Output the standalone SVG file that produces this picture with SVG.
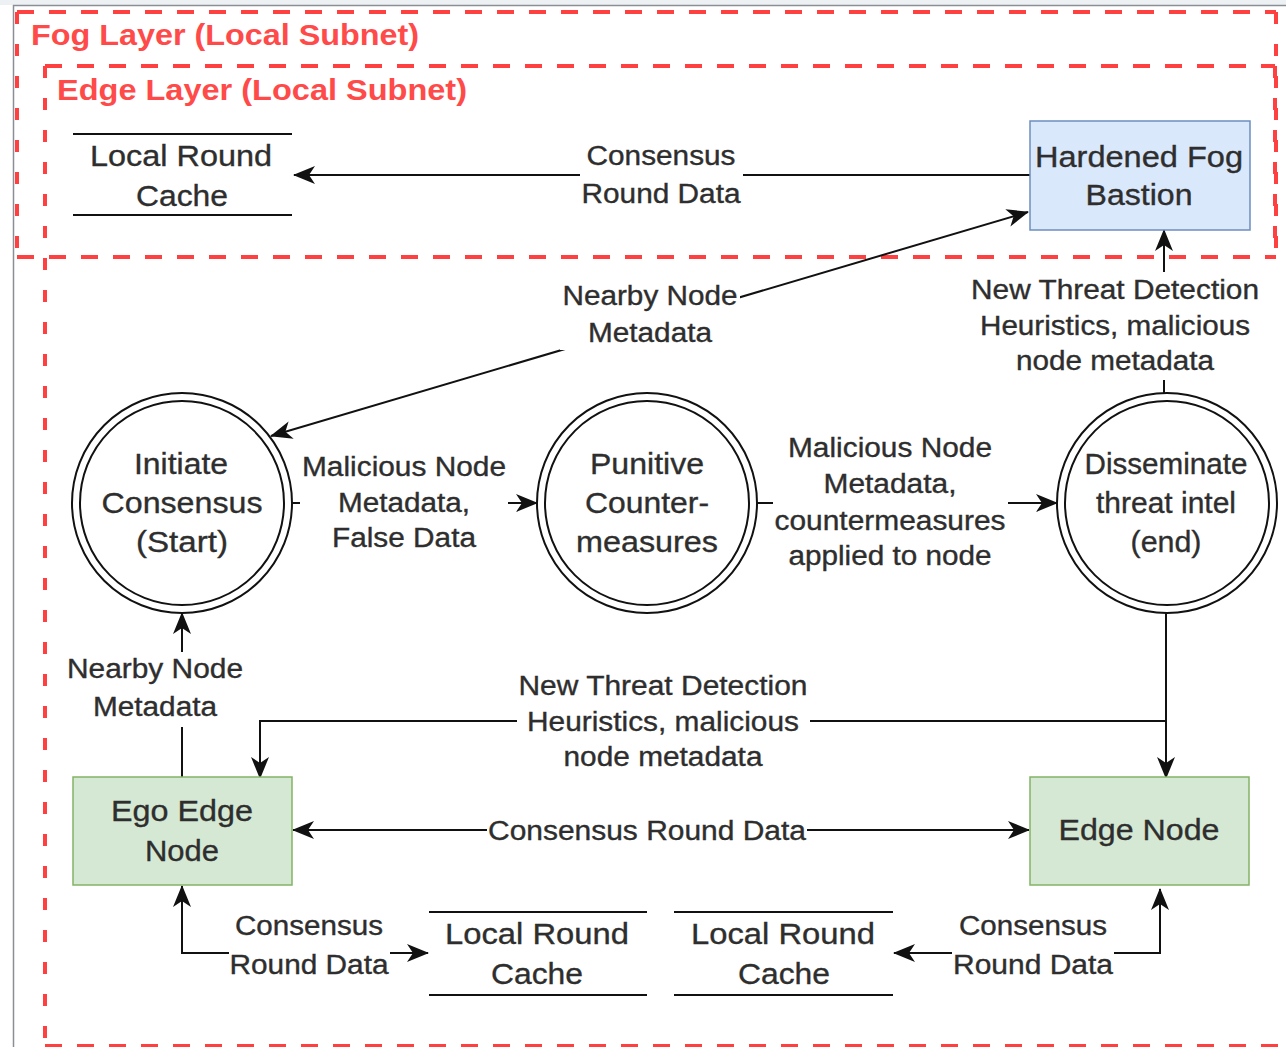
<svg xmlns="http://www.w3.org/2000/svg" width="1286" height="1047" viewBox="0 0 1286 1047">
  <style>
    text { font-family: "Liberation Sans", Arial, sans-serif; fill: #2e2e2e; stroke: #2e2e2e; stroke-width: 0.35; text-anchor: middle; }
    .node { font-size: 30px; }
    .lbl { font-size: 27px; }
    .layer { font-size: 29px; font-weight: bold; fill: #ff4a4a; stroke: none; text-anchor: start; }
    .zone-h { fill: none; stroke: #ff4040; stroke-width: 4; stroke-dasharray: 17 15; }
    .zone-v { fill: none; stroke: #ff4040; stroke-width: 4; stroke-dasharray: 12 20; }
    .wire { fill: none; stroke: #111; stroke-width: 2; }
    .ring { fill: #fff; stroke: #111; stroke-width: 2; }
    .store { stroke: #111; stroke-width: 2; }
    .bg { fill: #fff; }
  </style>
  <defs>
    <marker id="arr" viewBox="0 0 22 18" refX="21" refY="9" markerWidth="22" markerHeight="18" markerUnits="userSpaceOnUse" orient="auto-start-reverse">
      <path d="M0,0 L22,9 L0,18 L6,9 Z" fill="#111"/>
    </marker>
  </defs>

  <rect width="1286" height="1047" fill="#fff"/>
  <!-- outer frame -->
  <rect x="0" y="0" width="1286" height="5" fill="#eef1f4"/>
  <path d="M13.5,1047 V5.5 H1286" fill="none" stroke="#8a8f96" stroke-width="1.5"/>

  <!-- layer zones -->
  <g id="fog-layer">
    <path class="zone-h" d="M17,12 H1276"/>
    <path class="zone-h" d="M17,257 H1276"/>
    <path class="zone-v" d="M17,12 V257"/>
    <path class="zone-v" d="M1276,12 V257"/>
    <text class="layer" x="31" y="45" textLength="388" lengthAdjust="spacingAndGlyphs">Fog Layer (Local Subnet)</text>
  </g>
  <g id="edge-layer">
    <path class="zone-h" d="M45,66 H1275"/>
    <path class="zone-h" d="M45,1046 H1290"/>
    <path class="zone-v" d="M45,66 V1046"/>
    <path class="zone-v" d="M1275,66 V257"/>
    <text class="layer" x="57" y="100" textLength="410" lengthAdjust="spacingAndGlyphs">Edge Layer (Local Subnet)</text>
  </g>

  <!-- connectors -->
  <g id="connectors">
    <line class="wire" x1="1030" y1="175" x2="294" y2="175" marker-end="url(#arr)"/>
    <line class="wire" x1="271" y1="436" x2="1028" y2="212" marker-start="url(#arr)" marker-end="url(#arr)"/>
    <line class="wire" x1="1164" y1="393" x2="1164" y2="230" marker-end="url(#arr)"/>
    <line class="wire" x1="292" y1="503" x2="537" y2="503" marker-end="url(#arr)"/>
    <line class="wire" x1="757" y1="503" x2="1057" y2="503" marker-end="url(#arr)"/>
    <line class="wire" x1="1166" y1="613" x2="1166" y2="778" marker-end="url(#arr)"/>
    <path class="wire" d="M1166,721 H260 V778" marker-end="url(#arr)"/>
    <line class="wire" x1="182" y1="777" x2="182" y2="613" marker-end="url(#arr)"/>
    <line class="wire" x1="293" y1="830" x2="1029" y2="830" marker-start="url(#arr)" marker-end="url(#arr)"/>
    <path class="wire" d="M182,886 V953 H428" marker-start="url(#arr)" marker-end="url(#arr)"/>
    <path class="wire" d="M1160,889 V953 H894" marker-start="url(#arr)" marker-end="url(#arr)"/>

    <!-- connector labels -->
    <g id="lbl-top-round">
      <rect class="bg" x="580" y="140" width="163" height="72"/>
      <text class="lbl" x="661" y="165" textLength="149" lengthAdjust="spacingAndGlyphs">Consensus</text>
      <text class="lbl" x="661" y="203" textLength="159" lengthAdjust="spacingAndGlyphs">Round Data</text>
    </g>
    <g id="lbl-nearby-diag">
      <rect class="bg" x="560" y="280" width="180" height="70"/>
      <text class="lbl" x="650" y="305" textLength="175" lengthAdjust="spacingAndGlyphs">Nearby Node</text>
      <text class="lbl" x="650" y="342" textLength="124" lengthAdjust="spacingAndGlyphs">Metadata</text>
    </g>
    <g id="lbl-threat-up">
      <rect class="bg" x="969" y="272" width="292" height="108"/>
      <text class="lbl" x="1115" y="299" textLength="288" lengthAdjust="spacingAndGlyphs">New Threat Detection</text>
      <text class="lbl" x="1115" y="335" textLength="270" lengthAdjust="spacingAndGlyphs">Heuristics, malicious</text>
      <text class="lbl" x="1115" y="370" textLength="198" lengthAdjust="spacingAndGlyphs">node metadata</text>
    </g>
    <g id="lbl-false-data">
      <rect class="bg" x="300" y="450" width="208" height="105"/>
      <text class="lbl" x="404" y="476" textLength="204" lengthAdjust="spacingAndGlyphs">Malicious Node</text>
      <text class="lbl" x="404" y="512" textLength="132" lengthAdjust="spacingAndGlyphs">Metadata,</text>
      <text class="lbl" x="404" y="547" textLength="144" lengthAdjust="spacingAndGlyphs">False Data</text>
    </g>
    <g id="lbl-countermeasures">
      <rect class="bg" x="773" y="430" width="235" height="142"/>
      <text class="lbl" x="890" y="457" textLength="204" lengthAdjust="spacingAndGlyphs">Malicious Node</text>
      <text class="lbl" x="890" y="493" textLength="133" lengthAdjust="spacingAndGlyphs">Metadata,</text>
      <text class="lbl" x="890" y="530" textLength="231" lengthAdjust="spacingAndGlyphs">countermeasures</text>
      <text class="lbl" x="890" y="565" textLength="203" lengthAdjust="spacingAndGlyphs">applied to node</text>
    </g>
    <g id="lbl-nearby-left">
      <rect class="bg" x="65" y="652" width="180" height="75"/>
      <text class="lbl" x="155" y="678" textLength="176" lengthAdjust="spacingAndGlyphs">Nearby Node</text>
      <text class="lbl" x="155" y="716" textLength="124" lengthAdjust="spacingAndGlyphs">Metadata</text>
    </g>
    <g id="lbl-threat-down">
      <rect class="bg" x="517" y="668" width="293" height="107"/>
      <text class="lbl" x="663" y="695" textLength="289" lengthAdjust="spacingAndGlyphs">New Threat Detection</text>
      <text class="lbl" x="663" y="731" textLength="272" lengthAdjust="spacingAndGlyphs">Heuristics, malicious</text>
      <text class="lbl" x="663" y="766" textLength="199" lengthAdjust="spacingAndGlyphs">node metadata</text>
    </g>
    <g id="lbl-mid-round">
      <rect class="bg" x="487" y="815" width="320" height="33"/>
      <text class="lbl" x="647" y="840" textLength="318" lengthAdjust="spacingAndGlyphs">Consensus Round Data</text>
    </g>
    <g id="lbl-bl-round">
      <rect class="bg" x="229" y="910" width="161" height="72"/>
      <text class="lbl" x="309" y="935" textLength="148" lengthAdjust="spacingAndGlyphs">Consensus</text>
      <text class="lbl" x="309" y="974" textLength="159" lengthAdjust="spacingAndGlyphs">Round Data</text>
    </g>
    <g id="lbl-br-round">
      <rect class="bg" x="952" y="910" width="162" height="72"/>
      <text class="lbl" x="1033" y="935" textLength="148" lengthAdjust="spacingAndGlyphs">Consensus</text>
      <text class="lbl" x="1033" y="974" textLength="160" lengthAdjust="spacingAndGlyphs">Round Data</text>
    </g>
  </g>

  <!-- data stores -->
  <g id="cache-fog">
    <line class="store" x1="73" y1="134" x2="292" y2="134"/>
    <line class="store" x1="73" y1="215" x2="292" y2="215"/>
    <text class="node" x="181" y="166" textLength="182" lengthAdjust="spacingAndGlyphs">Local Round</text>
    <text class="node" x="182" y="206" textLength="92" lengthAdjust="spacingAndGlyphs">Cache</text>
  </g>
  <g id="cache-ego">
    <line class="store" x1="429" y1="912" x2="647" y2="912"/>
    <line class="store" x1="429" y1="995" x2="647" y2="995"/>
    <text class="node" x="537" y="944" textLength="184" lengthAdjust="spacingAndGlyphs">Local Round</text>
    <text class="node" x="537" y="984" textLength="92" lengthAdjust="spacingAndGlyphs">Cache</text>
  </g>
  <g id="cache-edge">
    <line class="store" x1="674" y1="912" x2="893" y2="912"/>
    <line class="store" x1="674" y1="995" x2="893" y2="995"/>
    <text class="node" x="783" y="944" textLength="184" lengthAdjust="spacingAndGlyphs">Local Round</text>
    <text class="node" x="784" y="984" textLength="92" lengthAdjust="spacingAndGlyphs">Cache</text>
  </g>

  <!-- process boxes -->
  <g id="fog-bastion">
    <rect x="1030" y="121" width="220" height="109" fill="#dae8fc" stroke="#6c8ebf" stroke-width="1.5"/>
    <text class="node" x="1139" y="167" textLength="208" lengthAdjust="spacingAndGlyphs">Hardened Fog</text>
    <text class="node" x="1139" y="205" textLength="107" lengthAdjust="spacingAndGlyphs">Bastion</text>
  </g>
  <g id="ego-edge-node">
    <rect x="73" y="777" width="219" height="108" fill="#d5e8d4" stroke="#82b366" stroke-width="1.5"/>
    <text class="node" x="182" y="821" textLength="142" lengthAdjust="spacingAndGlyphs">Ego Edge</text>
    <text class="node" x="182" y="861" textLength="74" lengthAdjust="spacingAndGlyphs">Node</text>
  </g>
  <g id="edge-node">
    <rect x="1030" y="777" width="219" height="108" fill="#d5e8d4" stroke="#82b366" stroke-width="1.5"/>
    <text class="node" x="1139" y="840" textLength="161" lengthAdjust="spacingAndGlyphs">Edge Node</text>
  </g>

  <!-- states -->
  <g id="initiate-consensus">
    <circle class="ring" cx="182" cy="503" r="110"/>
    <circle class="ring" cx="182" cy="503" r="102"/>
    <text class="node" x="181" y="474" textLength="94" lengthAdjust="spacingAndGlyphs">Initiate</text>
    <text class="node" x="182" y="513" textLength="161" lengthAdjust="spacingAndGlyphs">Consensus</text>
    <text class="node" x="182" y="552" textLength="92" lengthAdjust="spacingAndGlyphs">(Start)</text>
  </g>
  <g id="punitive-countermeasures">
    <circle class="ring" cx="647" cy="503" r="110"/>
    <circle class="ring" cx="647" cy="503" r="102"/>
    <text class="node" x="647" y="474" textLength="114" lengthAdjust="spacingAndGlyphs">Punitive</text>
    <text class="node" x="647" y="513" textLength="124" lengthAdjust="spacingAndGlyphs">Counter-</text>
    <text class="node" x="647" y="552" textLength="142" lengthAdjust="spacingAndGlyphs">measures</text>
  </g>
  <g id="disseminate-intel">
    <circle class="ring" cx="1167" cy="503" r="110"/>
    <circle class="ring" cx="1167" cy="503" r="102"/>
    <text class="node" x="1166" y="474" textLength="163" lengthAdjust="spacingAndGlyphs">Disseminate</text>
    <text class="node" x="1166" y="513" textLength="140" lengthAdjust="spacingAndGlyphs">threat intel</text>
    <text class="node" x="1166" y="552" textLength="71" lengthAdjust="spacingAndGlyphs">(end)</text>
  </g>
</svg>
